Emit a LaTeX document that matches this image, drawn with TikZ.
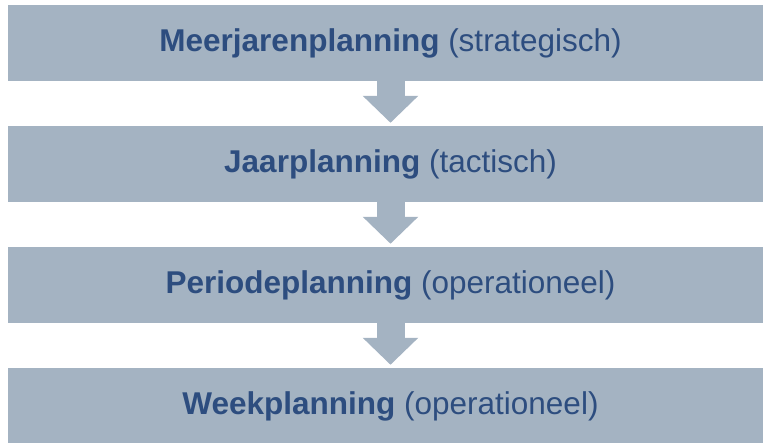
\documentclass[tikz,border=0pt]{standalone}
\usepackage{fontspec}
\setmainfont{Liberation Sans}
\usetikzlibrary{arrows.meta,positioning}
\definecolor{vlak}{RGB}{164,179,194}
\definecolor{tekst}{RGB}{45,77,127}
\begin{document}
\begin{tikzpicture}[x=1pt,y=-1pt]
	\tikzset{niveau/.style={rectangle,fill=vlak,text=tekst,minimum width=765pt,minimum height=76pt,inner sep=0pt,font=\fontsize{31.5}{36}\selectfont}}
	\tikzset{pijl/.style={vlak,line width=28pt,-{Triangle[width=54pt,length=27pt]}}}
	\useasboundingbox (0,0) rectangle (763,443);
	\node[niveau] (meerjaren) at (390.5,43) {\textbf{Meerjarenplanning} (strategisch)};
	\node[niveau] (jaar) at (390.5,164) {\textbf{Jaarplanning} (tactisch)};
	\node[niveau] (periode) at (390.5,285) {\textbf{Periodeplanning} (operationeel)};
	\node[niveau] (week) at (390.5,406) {\textbf{Weekplanning} (operationeel)};
	% pijlen tussen de niveaus
	\draw[pijl] (meerjaren.south) -- ([yshift=3pt]jaar.north);
	\draw[pijl] (jaar.south) -- ([yshift=3pt]periode.north);
	\draw[pijl] (periode.south) -- ([yshift=3pt]week.north);
\end{tikzpicture}
\end{document}
